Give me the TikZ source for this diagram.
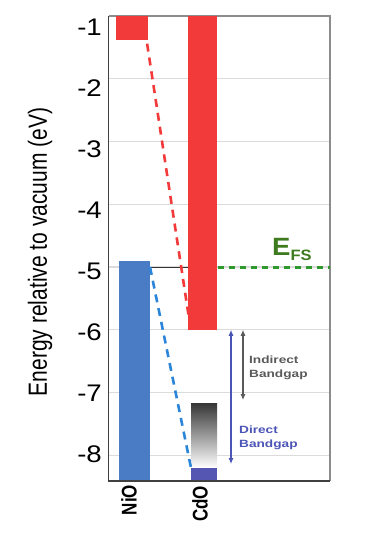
\documentclass[tikz,border=0pt]{standalone}
\usepackage{fontspec}
\setmainfont{Liberation Sans}
\usetikzlibrary{arrows.meta}
\definecolor{bandred}{HTML}{F23A3A}
\definecolor{bandblue}{HTML}{4A7CC6}
\definecolor{cdoblue}{HTML}{5456B2}
\definecolor{alignblue}{HTML}{2B86DA}
\definecolor{fsgreen}{HTML}{2E9A2E}
\definecolor{efsgreen}{HTML}{3E7A1E}
\definecolor{gapblue}{HTML}{4B55B5}
\definecolor{gapgray}{HTML}{5A5A5A}
\newcommand\widetext[2][1.3]{\scalebox{#1}[1]{#2}}
\newcommand\tallrot[2][1.25]{\scalebox{1}[#1]{#2}}
\tikzset{
  gridline/.style={draw=black!14, line width=1.3pt},
  ticklabel/.style={anchor=east, inner sep=0pt, font=\fontsize{24}{24}\selectfont},
  gaparrow/.style={line width=1.1pt, {Latex[length=6pt,width=5pt]}-{Latex[length=6pt,width=5pt]}},
  gaplabel/.style={anchor=west, align=left, inner sep=0pt, font=\fontsize{10.5}{14}\selectfont\bfseries},
  oxide/.style={rotate=90, inner sep=0pt, font=\fontsize{17}{17}\selectfont\bfseries}
}
\begin{document}
\begin{tikzpicture}[x=1pt, y=1pt]
  \useasboundingbox (0,0) rectangle (390,-542);
  \begin{scope}[y=62.75pt, yshift=46.75pt]
    \foreach \e in {-2,...,-8}
      \draw[gridline] (108,\e) -- (330,\e);
    \coordinate (boxtl) at (108.5,-1);
    \coordinate (boxbr) at (330,-8.41);
    \draw[black!45, line width=1.5pt] (boxtl) -- (330,-1) -- (boxbr);
    \draw[black!75, line width=1.6pt] (330,-8.41) -- (108.5,-8.41) -- (boxtl);

    \fill[bandred] (116,-1) rectangle (148,-1.38);
    \fill[bandblue] (119,-4.9) rectangle (150,-8.39);
    \fill[bandred] (188,-1) rectangle (217,-6.0);
    \shade[top color=black!78, bottom color=white] (191,-7.18) rectangle (217,-8.2);
    \fill[cdoblue] (191,-8.2) rectangle (217,-8.39);

    \coordinate (nioCB) at (145,-1.22);
    \coordinate (cdoCB) at (190,-5.92);
    \coordinate (nioVB) at (150,-5.0);
    \coordinate (cdoVB) at (191,-8.2);
    \coordinate (cdoL) at (188,-5.0);
    \coordinate (efsL) at (218,-5.0);
    \coordinate (efsR) at (330,-5.0);
    \draw[black!80, line width=1pt] (nioVB) -- (cdoL);
    \draw[bandred, line width=2.6pt, dash pattern=on 8pt off 6pt] (nioCB) -- (cdoCB);
    \draw[alignblue, line width=2.6pt, dash pattern=on 8pt off 6pt] (nioVB) -- (cdoVB);
    \draw[fsgreen, line width=3pt, dash pattern=on 6pt off 5pt] (efsL) -- (efsR);

    \coordinate (dtop) at (231,-6.0);
    \coordinate (dbot) at (231,-8.14);
    \coordinate (itop) at (243,-6.0);
    \coordinate (ibot) at (243,-7.12);
    \draw[gaparrow, gapblue] (dtop) -- (dbot);
    \draw[gaparrow, gapgray] (itop) -- (ibot);
  \end{scope}

  \foreach \e [count=\i from 0] in {-1,...,-8}
    \node[ticklabel] (tick\i) at (102,-27-61*\i) {\widetext[1.15]{\e}};
  \node[rotate=90, font=\fontsize{21}{21}\selectfont] (ylabel) at (40,-252)
    {\tallrot{Energy relative to vacuum (eV)}};
  \node[oxide] (nio) at (129,-500) {\tallrot{NiO}};
  \node[oxide] (cdo) at (200,-504) {\tallrot{CdO}};
  \node[gaplabel, text=gapgray] (indirect) at (249,-368)
    {\widetext{Indirect}\\\widetext{Bandgap}};
  \node[gaplabel, text=gapblue] (direct) at (239,-438)
    {\widetext{Direct}\\\widetext{Bandgap}};
  \node[anchor=base west, inner sep=0pt, text=efsgreen, font=\bfseries] (efs) at (272,-255)
    {\widetext[1.1]{\fontsize{25}{25}\selectfont E\raisebox{-5pt}{\fontsize{15}{15}\selectfont FS}}};
\end{tikzpicture}
\end{document}
